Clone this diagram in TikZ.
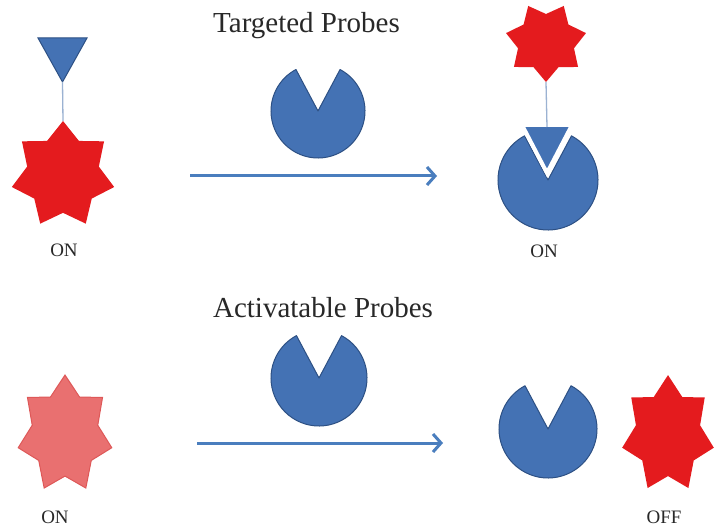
\documentclass[tikz,border=0pt]{standalone}
\usepackage{fontspec}
\setmainfont{Liberation Serif}
\usetikzlibrary{arrows.meta}
\definecolor{pblue}{RGB}{68,114,180}
\definecolor{pborder}{RGB}{45,80,132}
\definecolor{parrowc}{RGB}{74,126,190}
\definecolor{sred}{RGB}{228,27,30}
\definecolor{spink}{RGB}{233,112,112}
\definecolor{spinkb}{RGB}{222,88,88}
\definecolor{conn}{RGB}{155,178,210}
\definecolor{txt}{RGB}{40,40,40}
\tikzset{
  pac/.style={fill=pblue, draw=pborder, line width=1pt, line join=round},
  probearrow/.style={draw=parrowc, line width=3pt, -{Straight Barb[length=8pt,width=18pt]}},
  connline/.style={draw=conn, line width=1.3pt},
  title/.style={text=txt, font=\fontsize{29}{34}\selectfont, anchor=base, inner sep=0pt},
  lab/.style={text=txt, font=\fontsize{19}{23}\selectfont, anchor=base, inner sep=0pt},
  redstar/.style={fill=sred},
  pinkstar/.style={fill=spink, draw=spinkb, line width=1pt, line join=miter}
}
\begin{document}
\begin{tikzpicture}[x=1pt,y=1pt]
\useasboundingbox (0,0) rectangle (717,528);
\fill[white] (0,0) rectangle (717,528);

% ---------- Targeted probes ----------
\node[title] (t1) at (306.5,495) {Targeted Probes};

% left: triangle + line + star
\begin{scope}[shift={(63,353)}, xscale=52.5, yscale=54]
  \fill[redstar] (90:1) \foreach \k in {1,...,13}{ -- ({90+\k*360/14}:{ifthenelse(isodd(\k),0.7,1)})} -- cycle;
  \coordinate (s1) at (90:1);
\end{scope}
\filldraw[pac, line join=miter] (38,490) -- (87,490) -- (62.5,446) -- cycle;
\coordinate (tri1) at (62.5,446);
\draw[connline] (tri1) -- (s1);
\node[lab] (on1) at (64,271) {ON};

% middle pacman
\filldraw[pac] (318,417) -- ++(62:47) arc[start angle=62, end angle=-242, radius=47] -- cycle;

% arrow
\coordinate (a1s) at (190,352);
\coordinate (a1e) at (437,352);
\draw[probearrow] (a1s) -- (a1e);

% right: star + line + triangle in pacman
\begin{scope}[shift={(546,486)}, xscale=41, yscale=40]
  \fill[redstar] (-90:1) \foreach \k in {1,...,13}{ -- ({-90+\k*360/14}:{ifthenelse(isodd(\k),0.7,1)})} -- cycle;
  \coordinate (s2) at (-90:1);
\end{scope}
\filldraw[pac] (548,348) -- ++(62:50) arc[start angle=62, end angle=-242, radius=50] -- cycle;
\filldraw[fill=pblue, draw=white, line width=4pt, line join=miter] (522,403) -- (572,403) -- (547,355) -- cycle;
\coordinate (tri2) at (547,401);
\draw[connline] (s2) -- (tri2);
\node[lab] (on2) at (544,270) {ON};

% ---------- Activatable probes ----------
\node[title] (t2) at (323,211) {Activatable Probes};

% left pink star
\begin{scope}[shift={(65,93.5)}, xscale=48, yscale=59.4]
  \filldraw[pinkstar] (90:1) \foreach \k in {1,...,13}{ -- ({90+\k*360/14}:{ifthenelse(isodd(\k),0.7,1)})} -- cycle;
\end{scope}
\node[lab] (on3) at (55,5) {ON};

% middle pacman
\filldraw[pac] (319,150) -- ++(62:48) arc[start angle=62, end angle=-242, radius=48] -- cycle;

% arrow
\coordinate (a2s) at (197,85);
\coordinate (a2e) at (443,85);
\draw[probearrow] (a2s) -- (a2e);

% right pacman + red star
\filldraw[pac] (548,99) -- ++(62:49) arc[start angle=62, end angle=-242, radius=49] -- cycle;
\begin{scope}[shift={(668,93.5)}, xscale=47, yscale=59.4]
  \fill[redstar] (90:1) \foreach \k in {1,...,13}{ -- ({90+\k*360/14}:{ifthenelse(isodd(\k),0.7,1)})} -- cycle;
\end{scope}
\node[lab] (off) at (664,5) {OFF};
\end{tikzpicture}
\end{document}
